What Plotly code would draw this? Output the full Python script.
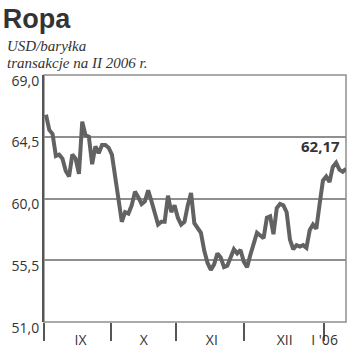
import plotly.graph_objects as go

# ---- data ----
prices = [66.1, 65.0, 64.7, 63.1, 63.2, 62.9, 62.0, 61.6, 63.2, 62.9,
          61.8, 65.6, 64.6, 64.5, 62.5, 63.8, 63.3, 63.9, 63.9, 63.7,
          63.2, 61.5, 59.8, 58.3, 59.0, 58.9, 59.5, 60.5, 60.1, 59.6,
          59.8, 60.6, 59.8, 59.0, 58.1, 58.3, 58.3, 60.2, 59.0, 59.5,
          58.6, 58.1, 58.3, 59.5, 60.4, 58.2, 57.9, 57.5, 56.2, 55.3,
          54.8, 55.2, 56.0, 55.7, 55.0, 55.1, 55.7, 56.3, 56.0, 56.25,
          55.4, 55.0, 55.9, 56.8, 57.5, 57.3, 57.1, 58.6, 58.7, 57.4,
          59.3, 59.6, 59.5, 59.0, 57.0, 56.3, 56.6, 56.5, 56.6, 56.4,
          57.7, 58.1, 57.8, 59.6, 61.3, 61.6, 61.2, 62.3, 62.6, 62.1,
          61.95, 62.17]
session = list(range(len(prices)))

month_bounds = [-0.55, 19.7, 39.4, 60.0, 84.2]
month_label_pos = [10.5, 29.7, 50.3, 72.4, 84.5]
month_labels = ["IX", "X", "XI", "XII", "I '06"]

y_ticks = [51.0, 55.5, 60.0, 64.5, 69.0]

title = "Ropa"
subtitle1 = "USD/baryłka"
subtitle2 = "transakcje na II 2006 r."

fig = go.Figure()
fig.add_trace(go.Scatter(x=session, y=prices, mode="lines",
                         line=dict(color="#626262", width=4),
                         hoverinfo="skip", showlegend=False))
# invisible trace for the label axis
fig.add_trace(go.Scatter(x=[session[0]], y=[prices[0]], xaxis="x2",
                         mode="markers", marker=dict(opacity=0),
                         hoverinfo="skip", showlegend=False))

last_label = f"{prices[-1]:.2f}".replace(".", ",")
fig.add_annotation(x=session[-1], y=prices[-1], text=f"<b>{last_label}</b>",
                   showarrow=False, xanchor="right", yanchor="bottom",
                   xshift=-4, yshift=11,
                   font=dict(family="Open Sans", size=15, color="#333333"))

fig.add_annotation(xref="paper", yref="paper", x=-0.128, y=1.118,
                   text=f"<i>{subtitle1}</i>", showarrow=False,
                   xanchor="left", yanchor="middle",
                   font=dict(family="Liberation Serif", size=15, color="#333333"))
fig.add_annotation(xref="paper", yref="paper", x=-0.128, y=1.049,
                   text=f"<i>{subtitle2}</i>", showarrow=False,
                   xanchor="left", yanchor="middle",
                   font=dict(family="Liberation Serif", size=15, color="#333333"))

fig.add_shape(type="rect", xref="x domain", yref="y domain",
              x0=0, x1=1, y0=0, y1=1, layer="below",
              line=dict(color="#8f8f8f", width=1.5))

x_range = [-0.6, 91.0]
fig.update_layout(
    width=350, height=355,
    margin=dict(l=44, r=4, t=75, b=33),
    paper_bgcolor="white", plot_bgcolor="white",
    separators=",.",
    title=dict(text=f"<b>{title}</b>", x=0.008, xanchor="left",
               xref="container", y=0.948, yanchor="middle", yref="container",
               font=dict(family="Liberation Sans", size=27, color="#333333")),
    xaxis=dict(range=x_range, tickvals=month_bounds, ticktext=[""] * len(month_bounds),
               ticks="outside", ticklen=18, tickwidth=1.5, tickcolor="#555555",
               showgrid=False, zeroline=False, showline=False),
    xaxis2=dict(range=x_range, overlaying="x", anchor="y", side="bottom",
                tickvals=month_label_pos, ticktext=month_labels,
                ticks="outside", ticklen=5, tickcolor="rgba(0,0,0,0)",
                showgrid=False, zeroline=False, showline=False,
                tickfont=dict(family="Open Sans", size=14, color="#333333")),
    yaxis=dict(range=[51, 69], tickvals=y_ticks, tickformat=".1f",
               showgrid=True, gridcolor="#8f8f8f", gridwidth=1.5,
               showline=True, linecolor="#555555", linewidth=2,
               zeroline=False, ticks="", ticklabelposition="outside bottom",
               ticklabelshift=-4,
               tickfont=dict(family="Open Sans", size=14, color="#333333")),
)

fig.write_html("out.html")
